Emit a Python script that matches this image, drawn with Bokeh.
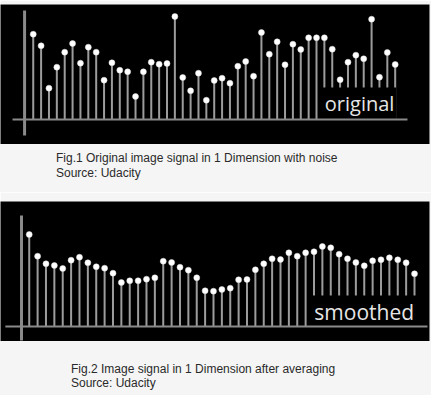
from bokeh.plotting import figure
from bokeh.models import Label, Div
from bokeh.layouts import column
from bokeh.embed import file_html
from bokeh.resources import INLINE

# ---- data ----
original = [85.3, 73.7, 31.3, 52.3, 67.3, 76.0, 56.3, 72.3, 67.3, 39.3,
            56.7, 49.3, 47.7, 23.0, 47.7, 57.3, 55.3, 56.0, 103.0, 42.0,
            28.7, 46.3, 19.3, 39.0, 41.3, 36.3, 53.3, 58.0, 43.3, 87.0,
            65.3, 77.7, 54.7, 75.3, 70.0, 81.7, 81.7, 81.7, 70.3, 39.7,
            57.3, 64.3, 60.7, 100.3, 42.3, 67.0, 55.0]
smoothed = [92.0, 70.3, 62.7, 61.0, 58.0, 66.3, 69.3, 63.7, 59.7, 58.3,
            53.3, 44.0, 45.7, 45.7, 47.3, 48.7, 65.3, 64.0, 59.3, 56.3,
            48.7, 35.7, 35.3, 37.0, 38.3, 46.7, 47.0, 56.7, 62.7, 67.7,
            67.0, 73.7, 70.3, 73.7, 74.7, 80.0, 78.7, 72.3, 67.7, 64.0,
            60.7, 65.7, 66.7, 68.7, 66.7, 63.7, 52.7]
samples1 = list(range(1, len(original) + 1))
samples2 = list(range(1, len(smoothed) + 1))

label1 = "original"
label2 = "smoothed"
caption1 = ["Fig.1 Original image signal in 1 Dimension with noise", "Source: Udacity"]
caption2 = ["Fig.2 Image signal in 1 Dimension after averaging", "Source: Udacity"]

PAGE = "#f5f5f5"
STEM = "#9c9c9c"
AXIS = "#8a8a8a"


def panel(xs, ys, x_range, y_range, vaxis, haxis, label, label_pos, font_size, top):
    p = figure(width=431, height=140 + top, x_range=x_range, y_range=y_range,
               output_backend="svg", toolbar_location=None,
               x_axis_type=None, y_axis_type=None,
               min_border_left=0, min_border_right=2,
               min_border_top=top, min_border_bottom=0)
    p.background_fill_color = "black"
    p.border_fill_color = PAGE
    p.outline_line_color = None
    p.grid.visible = False
    # stems and dots
    p.segment(x0=xs, y0=[0] * len(xs), x1=xs, y1=ys, line_color=STEM, line_width=2)
    p.scatter(xs, ys, size=6, fill_color="white", line_color="#dddddd", line_width=0.5)
    lab = Label(x=label_pos[0], y=label_pos[1], text=label, text_font="Open Sans",
                text_font_size=font_size, text_color="#e6e6e6",
                text_baseline="alphabetic",
                background_fill_color="black",
                padding=dict(left=2, right=2, top=2, bottom=12))
    p.add_layout(lab)
    # axes lines (drawn above the label box)
    p.segment(x0=[vaxis[0]], y0=[vaxis[1]], x1=[vaxis[0]], y1=[vaxis[2]],
              line_color=AXIS, line_width=3, level="overlay")
    p.segment(x0=[haxis[0]], y0=[0], x1=[haxis[1]], y1=[0],
              line_color=AXIS, line_width=2, level="overlay")
    return p


def caption(lines, pad_left, pad_top, height, line_h):
    html = "<br>".join(lines)
    return Div(text=html, width=431, height=height,
               styles={"font-family": "'Liberation Sans', Arial, sans-serif",
                       "font-size": "12px", "color": "#2a2a2a",
                       "line-height": f"{line_h}px",
                       "padding-left": f"{pad_left}px", "padding-top": f"{pad_top}px",
                       "background": PAGE, "box-sizing": "border-box",
                       "margin": "0"})


p1 = panel(samples1, original, (-3.16, 51.36), (-25, 115),
           (-0.1, -16, 109), (-1.63, 48.56), label1, (37.8, 11.5), "20px", 4)
c1 = caption(caption1, 56, 7, 48, 15)
p2 = panel(samples2, smoothed, (-2.43, 48.79), (-15, 125),
           (0.08, -14, 111), (-1.85, 48.55), label2, (34.8, 10), "21px", 9)
c2 = caption(caption2, 71, 21, 54, 14)

layout = column(p1, c1, p2, c2, spacing=0)

html = file_html(layout, INLINE)
html = html.replace("<body>", '<body style="background:%s">' % PAGE, 1)
open("out.html", "w").write(html)
